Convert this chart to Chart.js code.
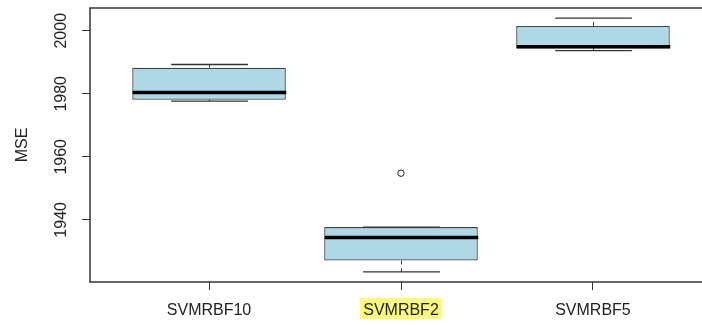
<!DOCTYPE html>
<html>
<head>
<meta charset="utf-8">
<script src="https://cdn.jsdelivr.net/npm/chart.js@4/dist/chart.umd.min.js"></script>
<style>
  html, body { margin: 0; padding: 0; background: #fff; overflow: hidden; }
  #wrap { width: 720px; height: 325px; }
</style>
</head>
<body>
<div id="wrap"><canvas id="mseChart" width="720" height="325"></canvas></div>
<script>
// five-number summaries per model
const groups = ['SVMRBF10', 'SVMRBF2', 'SVMRBF5'];
const lowerWhisker = [1977.7, 1923.5, 1993.7];
const q1 = [1978.1, 1927.1, 1994.4];
const medians = [1980.4, 1934.4, 1994.9];
const q3 = [1988.3, 1937.7, 2001.5];
const upperWhisker = [1989.3, 1937.7, 2004.0];
// points outside the whiskers
const outlierGroup = [2];
const outlierValue = [1954.8];
const yTicks = [1940, 1960, 1980, 2000];
const highlightGroup = 2;

const fontFamily = '"Liberation Sans", Arial, Helvetica, sans-serif';
const ink = '#222';

// R-style 4% padding around the data range
const yLo = Math.min(...lowerWhisker, ...outlierValue);
const yHi = Math.max(...upperWhisker, ...outlierValue);
const yPad = (yHi - yLo) * 0.04;
const xPad = (groups.length) * 0.04;

const boxParts = {
    id: 'boxParts',
    beforeDraw(chart) {
        // yellow marker behind one category label
        const ctx = chart.ctx;
        const x = chart.scales.x;
        const cx = x.getPixelForValue(highlightGroup);
        ctx.save();
        ctx.font = '16px ' + fontFamily;
        const w = ctx.measureText(groups[highlightGroup - 1]).width + 7;
        ctx.fillStyle = '#fcf981';
        ctx.fillRect(cx - w / 2, 298, w, 21);
        ctx.restore();
    },
    afterDatasetsDraw(chart) {
        const ctx = chart.ctx;
        const x = chart.scales.x;
        const y = chart.scales.y;
        const bars = chart.getDatasetMeta(0).data;
        ctx.save();
        groups.forEach((g, i) => {
            const cx = Math.round(x.getPixelForValue(i + 1)) + 0.5;
            const half = bars[i].width / 2;
            const capHalf = half / 2;
            const yUp = y.getPixelForValue(upperWhisker[i]);
            const yLow = y.getPixelForValue(lowerWhisker[i]);
            const yQ3 = y.getPixelForValue(q3[i]);
            const yQ1 = y.getPixelForValue(q1[i]);

            // dashed whiskers
            ctx.strokeStyle = '#333';
            ctx.lineWidth = 1;
            ctx.setLineDash([4, 4]);
            ctx.beginPath();
            ctx.moveTo(cx, yQ3);
            ctx.lineTo(cx, yUp);
            ctx.moveTo(cx, yQ1);
            ctx.lineTo(cx, yLow);
            ctx.stroke();

            // staples
            ctx.setLineDash([]);
            ctx.lineWidth = 1.3;
            ctx.beginPath();
            ctx.moveTo(cx - capHalf, yUp);
            ctx.lineTo(cx + capHalf, yUp);
            ctx.moveTo(cx - capHalf, yLow);
            ctx.lineTo(cx + capHalf, yLow);
            ctx.stroke();

            // median
            ctx.strokeStyle = '#000';
            ctx.lineWidth = 3.5;
            ctx.beginPath();
            ctx.moveTo(cx - half, y.getPixelForValue(medians[i]));
            ctx.lineTo(cx + half, y.getPixelForValue(medians[i]));
            ctx.stroke();
        });

        // plot frame
        const a = chart.chartArea;
        ctx.strokeStyle = '#333';
        ctx.lineWidth = 1.5;
        ctx.strokeRect(a.left, a.top, a.right - a.left, a.bottom - a.top);
        ctx.restore();
    }
};

const ctx = document.getElementById('mseChart').getContext('2d');
const chart = new Chart(ctx, {
    type: 'bar',
    data: {
        datasets: [{
            data: groups.map((g, i) => ({ x: i + 1, y: [q1[i], q3[i]] })),
            backgroundColor: '#add8e6',
            borderColor: '#444',
            borderWidth: 1.3,
            borderSkipped: false,
            grouped: false,
            barPercentage: 0.8,
            categoryPercentage: 1
        }, {
            type: 'scatter',
            data: outlierGroup.map((g, i) => ({ x: g, y: outlierValue[i] })),
            pointStyle: 'circle',
            pointRadius: 3.2,
            pointBorderWidth: 1,
            pointBorderColor: ink,
            pointBackgroundColor: 'rgba(0,0,0,0)'
        }]
    },
    options: {
        responsive: false,
        animation: false,
        devicePixelRatio: 1,
        layout: { padding: { top: 8, right: 8, left: 0, bottom: 0 } },
        plugins: {
            legend: { display: false },
            tooltip: { enabled: false }
        },
        scales: {
            x: {
                type: 'linear',
                offset: false,
                min: 1 - 0.5 - xPad,
                max: groups.length + 0.5 + xPad,
                afterBuildTicks(scale) {
                    scale.ticks = groups.map((g, i) => ({ value: i + 1 }));
                },
                afterFit(scale) {
                    scale.height = 43;
                    scale.paddingLeft = 0;
                    scale.paddingRight = 0;
                },
                border: { display: false },
                grid: { offset: false, drawOnChartArea: false, tickLength: 8, tickColor: '#333' },
                ticks: {
                    callback: (v) => groups[v - 1],
                    color: ink,
                    padding: 11,
                    maxRotation: 0,
                    font: { family: fontFamily, size: 16 }
                }
            },
            y: {
                min: yLo - yPad,
                max: yHi + yPad,
                afterBuildTicks(scale) {
                    scale.ticks = yTicks.map(v => ({ value: v }));
                },
                afterFit(scale) {
                    scale.width = 90;
                    scale.paddingTop = 0;
                    scale.paddingBottom = 0;
                },
                border: { display: false },
                grid: { drawOnChartArea: false, tickLength: 8, tickColor: '#333' },
                title: {
                    display: true,
                    text: 'MSE',
                    color: ink,
                    padding: { top: 13, bottom: 0 },
                    font: { family: fontFamily, size: 16 }
                },
                ticks: {
                    callback: (v) => String(v),
                    minRotation: 90,
                    maxRotation: 90,
                    crossAlign: 'center',
                    padding: 3,
                    color: ink,
                    font: { family: fontFamily, size: 16 }
                }
            }
        }
    },
    plugins: [boxParts]
});
</script>
</body>
</html>
